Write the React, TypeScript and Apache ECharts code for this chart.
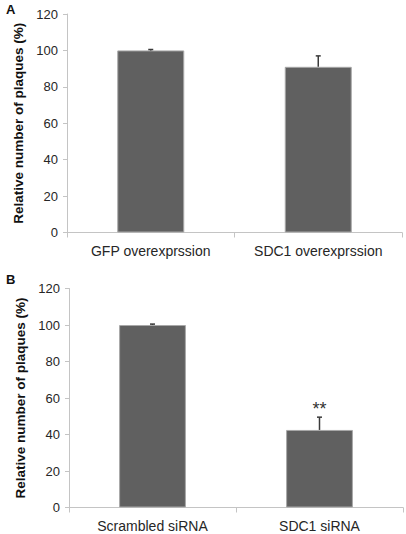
import React, { useEffect, useRef } from "react";
import * as echarts from "echarts";

const categoriesA = ["GFP overexprssion", "SDC1 overexprssion"];
const valuesA = [100, 91];
const errorsA = [0.5, 6];
const marksA = ["", ""];

const categoriesB = ["Scrambled siRNA", "SDC1 siRNA"];
const valuesB = [100, 42.5];
const errorsB = [0.5, 7];
const marksB = ["", "**"];

const yTicks = { min: 0, max: 120, interval: 20 };
const yName = "Relative number of plaques (%)";

const FONT = "'Liberation Sans', Arial, sans-serif";
const AXIS_COLOR = "#c4c4c4";
const TEXT_COLOR = "#262626";
const BAR_COLOR = "#606060";

function errorRenderer(marks: string[]) {
  return (params: any, api: any) => {
    const i = api.value(0);
    const v = api.value(1);
    const e = api.value(2);
    const base = api.coord([i, v]);
    const top = api.coord([i, v + e]);
    const cap = 2.5;
    const children: any[] = [
      {
        type: "line",
        shape: { x1: base[0], y1: base[1], x2: top[0], y2: top[1] },
        style: { stroke: "#3a3a3a", lineWidth: 1.5 },
      },
      {
        type: "line",
        shape: { x1: top[0] - cap, y1: top[1], x2: top[0] + cap, y2: top[1] },
        style: { stroke: "#3a3a3a", lineWidth: 1.5 },
      },
    ];
    const m = marks[params.dataIndex];
    if (m) {
      children.push({
        type: "text",
        x: top[0],
        y: top[1] + 1,
        style: {
          text: m,
          fill: "#333",
          font: `18px ${FONT}`,
          align: "center",
          verticalAlign: "bottom",
        },
      });
    }
    return { type: "group", children };
  };
}

export default function App() {
  const ref = useRef<HTMLDivElement>(null);
  useEffect(() => {
    if (!ref.current) return;
    const chart = echarts.init(ref.current, undefined, { renderer: "svg" });
    const grids = [
      { left: 67, right: 4, top: 14, bottom: 301.5 },
      { left: 69, right: 3, top: 288.5, bottom: 26.5 },
    ];
    const mkX = (cats: string[], gi: number) => ({
      type: "category",
      gridIndex: gi,
      data: cats,
      axisLine: { lineStyle: { color: AXIS_COLOR, width: 1 } },
      axisTick: { show: true, length: 5, lineStyle: { color: AXIS_COLOR } },
      axisLabel: { color: TEXT_COLOR, fontFamily: FONT, fontSize: 14, margin: 11 },
    });
    const mkY = (gi: number) => ({
      type: "value",
      gridIndex: gi,
      min: yTicks.min,
      max: yTicks.max,
      interval: yTicks.interval,
      name: yName,
      nameLocation: "middle",
      nameGap: 30,
      nameTextStyle: { color: "#111", fontFamily: FONT, fontSize: 13.5, fontWeight: "bold" },
      axisLine: { show: true, lineStyle: { color: AXIS_COLOR, width: 1 } },
      axisTick: { show: true, length: 4, lineStyle: { color: AXIS_COLOR } },
      splitLine: { show: false },
      axisLabel: { color: TEXT_COLOR, fontFamily: FONT, fontSize: 13, margin: 9 },
    });
    const barSeries = (vals: number[], gi: number) => ({
      type: "bar",
      xAxisIndex: gi,
      yAxisIndex: gi,
      data: vals,
      barWidth: "40%",
      itemStyle: { color: BAR_COLOR, borderColor: "#a8a8a8", borderWidth: 1 },
      z: 2,
    });
    const errSeries = (vals: number[], errs: number[], marks: string[], gi: number) => ({
      type: "custom",
      xAxisIndex: gi,
      yAxisIndex: gi,
      data: vals.map((v, i) => [i, v, errs[i]]),
      renderItem: errorRenderer(marks),
      z: 3,
    });
    chart.setOption({
      animation: false,
      backgroundColor: "#ffffff",
      grid: grids,
      xAxis: [mkX(categoriesA, 0), mkX(categoriesB, 1)],
      yAxis: [mkY(0), mkY(1)],
      series: [
        barSeries(valuesA, 0),
        errSeries(valuesA, errorsA, marksA, 0),
        barSeries(valuesB, 1),
        errSeries(valuesB, errorsB, marksB, 1),
      ],
      graphic: [
        {
          type: "text",
          left: 6,
          top: 3,
          style: { text: "A", font: `bold 13px ${FONT}`, fill: "#111" },
        },
        {
          type: "text",
          left: 6,
          top: 273,
          style: { text: "B", font: `bold 13px ${FONT}`, fill: "#111" },
        },
      ],
    });
    return () => chart.dispose();
  }, []);
  return (
    <div
      ref={ref}
      style={{ position: "absolute", left: 0, top: 0, width: 406, height: 534 }}
    />
  );
}
